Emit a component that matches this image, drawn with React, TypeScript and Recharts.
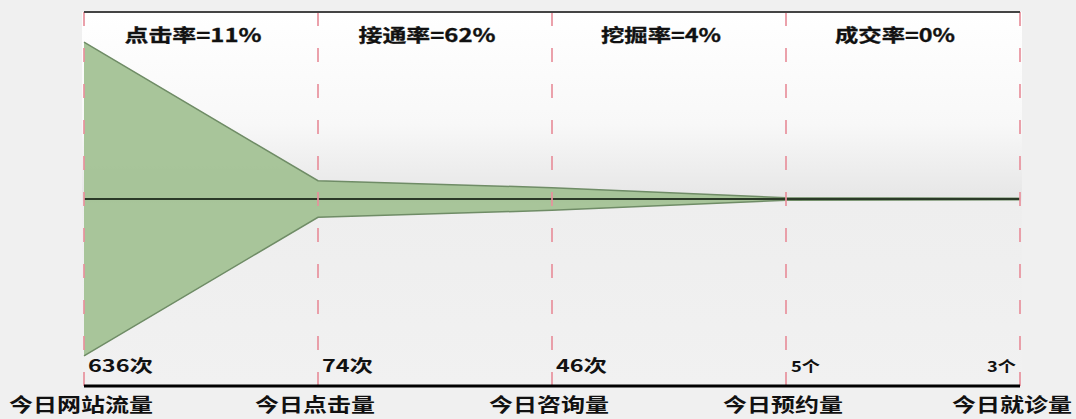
import { ComposedChart, Area, XAxis, YAxis, ReferenceLine } from 'recharts';

const stages = ['今日网站流量', '今日点击量', '今日咨询量', '今日预约量', '今日就诊量'];
const counts = [636, 74, 46, 5, 3];
const units = ['次', '次', '次', '个', '个'];
const rates = ['点击率=11%', '接通率=62%', '挖掘率=4%', '成交率=0%'];
const rateTicks = [0.5, 1.5, 2.5, 3.5];

const data = stages.map((name, i) => ({ idx: i, name, range: [-counts[i], counts[i]] }));

const FONT = "'Noto Sans CJK SC', 'Noto Sans', sans-serif";

// rough width of bold bitmap-ish text in the source picture
const textWidth = (s: string, cjk: number, other: number) =>
    [...s].reduce((w, c) => w + (/[\u4e00-\u9fff]/.test(c) ? cjk : other), 0);

const BottomTick = (props: any) => {
    const { x, y, payload } = props;
    const i = payload.value;
    const last = i === counts.length - 1;
    const small = units[i] === '个';
    const label = `${counts[i]}${units[i]}`;
    return (
        <g fontFamily={FONT} fontWeight={700} fill='#111'>
            <text
                x={last ? x - 4 : x + (small ? 5 : 4)}
                y={y - 14}
                textAnchor={last ? 'end' : 'start'}
                fontSize={small ? 15 : 17}
                textLength={small ? textWidth(label, 18, 11) : textWidth(label, 23, 14)}
                lengthAdjust='spacingAndGlyphs'
            >
                {label}
            </text>
            <text
                x={last ? x - 8 : x - 3}
                y={y + 26}
                textAnchor='middle'
                fontSize={19}
                textLength={textWidth(stages[i], 24, 12)}
                lengthAdjust='spacingAndGlyphs'
            >
                {stages[i]}
            </text>
        </g>
    );
};

const TopTick = (props: any) => {
    const { x, y, index } = props;
    const s = rates[index];
    return (
        <text
            x={x - 8}
            y={y + 30}
            textAnchor='middle'
            fontFamily={FONT}
            fontWeight={700}
            fontSize={18}
            fill='#111'
            stroke='#111'
            strokeWidth={0.3}
            textLength={textWidth(s, 23, 17)}
            lengthAdjust='spacingAndGlyphs'
        >
            {s}
        </text>
    );
};

export default function App() {
    return (
        <div style={{ position: 'absolute', left: 0, top: 0, width: 1076, height: 419, background: '#f0f0f0', overflow: 'hidden' }}>
            <div
                style={{
                    position: 'absolute', left: 82, top: 12, width: 940, height: 374,
                    background: 'linear-gradient(#ffffff 0%, #f8f8f8 30%, #e7e7e7 49%, #eeeeee 51%, #f1f1f1 100%)',
                }}
            />
            <div style={{ position: 'absolute', left: 0, top: 0 }}>
                <ComposedChart width={1076} height={419} data={data} margin={{ top: 0, right: 56, bottom: 0, left: 84 }}>
                    <XAxis
                        xAxisId='top'
                        orientation='top'
                        type='number'
                        dataKey='idx'
                        domain={[0, 4]}
                        ticks={rateTicks}
                        interval={0}
                        height={12}
                        tickSize={0}
                        tickMargin={0}
                        tickLine={false}
                        axisLine={{ stroke: '#444', strokeWidth: 2 }}
                        tick={<TopTick />}
                    />
                    <XAxis
                        type='number'
                        dataKey='idx'
                        domain={[0, 4]}
                        ticks={[0, 1, 2, 3, 4]}
                        interval={0}
                        height={33}
                        tickSize={0}
                        tickMargin={0}
                        tickLine={false}
                        axisLine={{ stroke: '#000', strokeWidth: 3 }}
                        tick={<BottomTick />}
                    />
                    <YAxis hide domain={[-758, 758]} width={0} />
                    <Area
                        dataKey='range'
                        type='linear'
                        fill='#a3c295'
                        fillOpacity={0.95}
                        stroke='#6f8c66'
                        strokeWidth={1.5}
                        isAnimationActive={false}
                    />
                    <ReferenceLine y={0} stroke='#2b3a28' strokeWidth={2} />
                    {counts.map((_, i) => (
                        <ReferenceLine
                            key={i}
                            x={i}
                            stroke='#e8909c'
                            strokeWidth={2}
                            strokeDasharray='14 22'
                            strokeOpacity={0.85}
                        />
                    ))}
                </ComposedChart>
            </div>
        </div>
    );
}
